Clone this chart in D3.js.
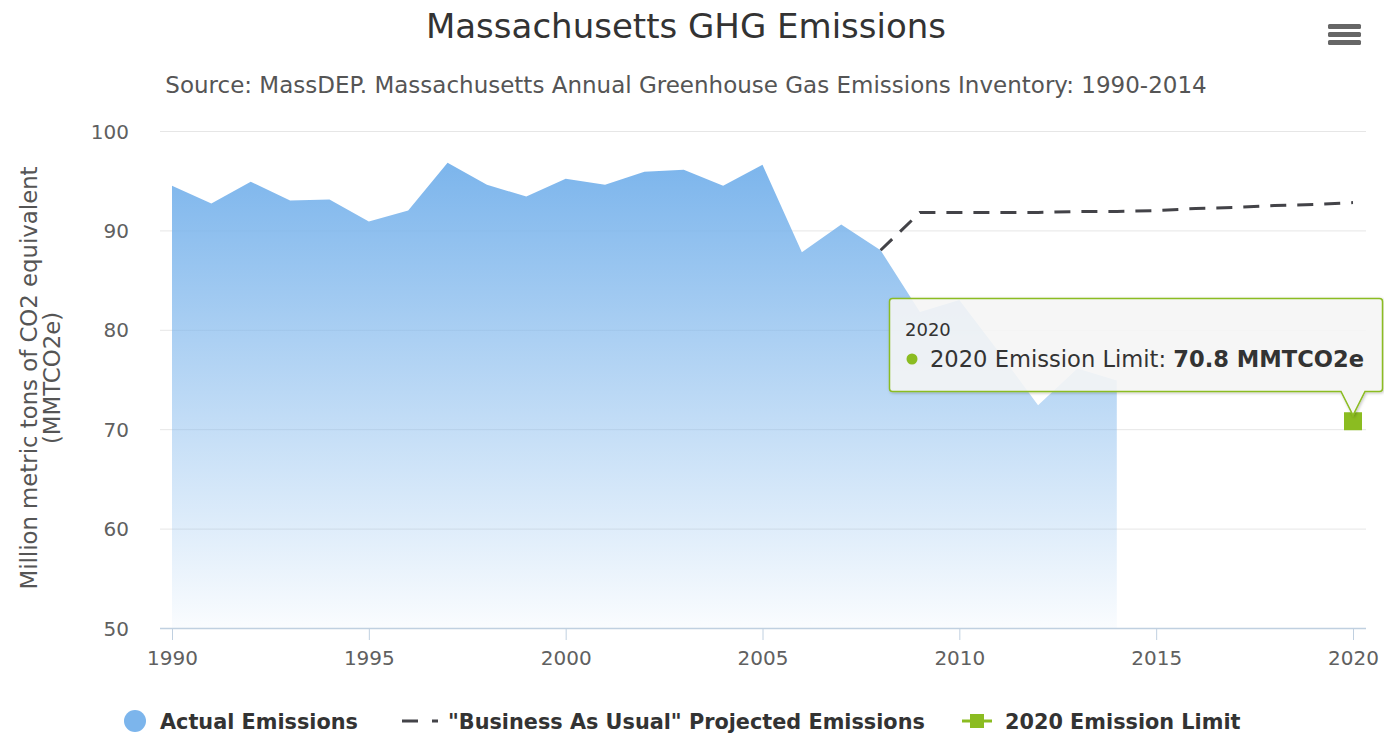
<!DOCTYPE html>
<html>
<head>
<meta charset="utf-8">
<script src="https://cdn.jsdelivr.net/npm/d3@7"></script>
<style>
  body { margin: 0; background: #fff; }
  svg { font-family: "DejaVu Sans", Verdana, sans-serif; }
</style>
</head>
<body>
<div id="chart"></div>
<script>
// data
var actualYears = [1990, 1991, 1992, 1993, 1994, 1995, 1996, 1997, 1998, 1999, 2000, 2001,
                   2002, 2003, 2004, 2005, 2006, 2007, 2008, 2009, 2010, 2011, 2012, 2013, 2014];
var actualValues = [94.5, 92.7, 94.9, 93.0, 93.1, 90.9, 92.0, 96.8, 94.6, 93.4, 95.2, 94.6,
                    95.9, 96.1, 94.5, 96.6, 87.8, 90.6, 88.0, 81.8, 83.0, 77.8, 72.4, 76.1, 74.9];
var bauYears = [2008, 2009, 2010, 2011, 2012, 2013, 2014, 2015, 2016, 2017, 2018, 2019, 2020];
var bauValues = [88.0, 91.8, 91.8, 91.8, 91.8, 91.9, 91.9, 92.0, 92.2, 92.3, 92.5, 92.6, 92.8];
var limitYears = [2020];
var limitValues = [70.8];
var xTicks = [1990, 1995, 2000, 2005, 2010, 2015, 2020];
var yTicks = [50, 60, 70, 80, 90, 100];

var W = 1384, H = 734;
var plot = {left: 160, right: 1366, top: 131, bottom: 628};

var svg = d3.select("#chart")
  .append("svg")
    .attr("width", W)
    .attr("height", H);

var defs = svg.append("defs");
var grad = defs.append("linearGradient")
    .attr("id", "areaGrad")
    .attr("x1", 0).attr("y1", 0).attr("x2", 0).attr("y2", 1);
grad.append("stop").attr("offset", "0%").attr("stop-color", "#7cb5ec").attr("stop-opacity", 1);
grad.append("stop").attr("offset", "100%").attr("stop-color", "#7cb5ec").attr("stop-opacity", 0.04);

var shadow = defs.append("filter").attr("id", "shadow")
    .attr("x", "-10%").attr("y", "-10%").attr("width", "130%").attr("height", "140%");
shadow.append("feDropShadow")
    .attr("dx", 1).attr("dy", 1).attr("stdDeviation", 1.5)
    .attr("flood-color", "#000").attr("flood-opacity", 0.25);

var x = d3.scaleLinear()
  .domain([1990, 2020])
  .range([172, 1353]);

var y = d3.scaleLinear()
  .domain([50, 100])
  .range([plot.bottom, plot.top]);

// title + subtitle
svg.append("text")
  .attr("x", 686).attr("y", 38)
  .attr("text-anchor", "middle")
  .style("font-size", "34px")
  .style("fill", "#333")
  .text("Massachusetts GHG Emissions");

svg.append("text")
  .attr("x", 686).attr("y", 93)
  .attr("text-anchor", "middle")
  .style("font-size", "23px")
  .style("fill", "#555")
  .text("Source: MassDEP. Massachusetts Annual Greenhouse Gas Emissions Inventory: 1990-2014");

// menu button
[0, 1, 2].forEach(function(i) {
  svg.append("rect")
    .attr("x", 1328).attr("y", 24 + i * 8)
    .attr("width", 33).attr("height", 5)
    .attr("rx", 1.5)
    .style("fill", "#666");
});

// grid lines
svg.append("g")
  .attr("transform", "translate(" + plot.left + ",0)")
  .call(d3.axisRight(y).tickValues(yTicks).tickSize(plot.right - plot.left).tickFormat(""))
  .call(function(g) {
    g.select(".domain").remove();
    g.selectAll("line").attr("stroke", "#e6e6e6");
  });

// y labels
svg.append("g")
  .attr("transform", "translate(" + plot.left + ",0)")
  .call(d3.axisLeft(y).tickValues(yTicks).tickSize(0).tickPadding(31))
  .call(function(g) {
    g.select(".domain").remove();
    g.selectAll("text")
      .attr("dy", "0.35em")
      .style("font-size", "20px")
      .style("fill", "#606060")
      .style("font-family", "DejaVu Sans, Verdana, sans-serif");
  });

// y axis title
svg.append("text")
  .attr("transform", "translate(37," + 378 + ") rotate(-90)")
  .attr("text-anchor", "middle")
  .style("font-size", "22.8px")
  .style("fill", "#555")
  .call(function(t) {
    t.append("tspan").attr("x", 0).attr("dy", 0).text("Million metric tons of CO2 equivalent");
    t.append("tspan").attr("x", 0).attr("dy", 23).text("(MMTCO2e)");
  });

// area series
var actual = actualYears.map(function(d, i) { return {year: d, value: actualValues[i]}; });
var area = d3.area()
  .x(function(d) { return x(d.year); })
  .y0(y(50))
  .y1(function(d) { return y(d.value); });

svg.append("path")
  .datum(actual)
  .attr("d", area)
  .style("fill", "url(#areaGrad)");

// business as usual line
var bau = bauYears.map(function(d, i) { return {year: d, value: bauValues[i]}; });
var line = d3.line()
  .x(function(d) { return x(d.year); })
  .y(function(d) { return y(d.value); });

svg.append("path")
  .datum(bau)
  .attr("d", line)
  .style("fill", "none")
  .style("stroke", "#434348")
  .style("stroke-width", 3)
  .style("stroke-dasharray", "16,11");

// x axis
svg.append("line")
  .attr("x1", plot.left).attr("x2", plot.right)
  .attr("y1", plot.bottom + 0.5).attr("y2", plot.bottom + 0.5)
  .attr("stroke", "#c0d0e0").attr("stroke-width", 1.5);

svg.append("g")
  .attr("transform", "translate(0," + plot.bottom + ")")
  .call(d3.axisBottom(x).tickValues(xTicks).tickFormat(d3.format("d")).tickSize(12).tickPadding(11))
  .call(function(g) {
    g.select(".domain").remove();
    g.selectAll("line").attr("stroke", "#c0d0e0");
    g.selectAll("text")
      .style("font-size", "20px")
      .style("fill", "#606060")
      .style("font-family", "DejaVu Sans, Verdana, sans-serif");
  });

// emission limit marker
svg.selectAll("rect.limit")
  .data(limitYears)
  .enter()
  .append("rect")
    .attr("class", "limit")
    .attr("x", function(d) { return x(d) - 9; })
    .attr("y", function(d, i) { return y(limitValues[i]) - 9; })
    .attr("width", 18)
    .attr("height", 18)
    .style("fill", "#8bbc21");

// tooltip
var tipX = x(limitYears[0]), tipY = y(limitValues[0]) - 16;
var bx0 = 889.5, bx1 = 1382.5, by0 = 298.5, by1 = 391.5, r = 3;
var tipPath = "M" + (bx0 + r) + "," + by0 +
  " L" + (bx1 - r) + "," + by0 + " Q" + bx1 + "," + by0 + " " + bx1 + "," + (by0 + r) +
  " L" + bx1 + "," + (by1 - r) + " Q" + bx1 + "," + by1 + " " + (bx1 - r) + "," + by1 +
  " L" + (tipX + 12) + "," + by1 + " L" + tipX + "," + (tipY + 10) + " L" + (tipX - 12) + "," + by1 +
  " L" + (bx0 + r) + "," + by1 + " Q" + bx0 + "," + by1 + " " + bx0 + "," + (by1 - r) +
  " L" + bx0 + "," + (by0 + r) + " Q" + bx0 + "," + by0 + " " + (bx0 + r) + "," + by0 + " Z";

var tip = svg.append("g");
tip.append("path")
  .attr("d", tipPath)
  .style("fill", "rgba(249,249,249,0.85)")
  .style("stroke", "#8bbc21")
  .style("stroke-width", 1.5)
  .attr("filter", "url(#shadow)");

tip.append("text")
  .attr("x", 905).attr("y", 336)
  .style("font-size", "18px")
  .style("fill", "#333")
  .text(limitYears[0]);

tip.append("circle")
  .attr("cx", 912).attr("cy", 359).attr("r", 5.5)
  .style("fill", "#8bbc21");

tip.append("text")
  .attr("x", 930).attr("y", 367)
  .style("font-size", "22.6px")
  .style("fill", "#333")
  .call(function(t) {
    t.append("tspan").text("2020 Emission Limit: ");
    t.append("tspan").style("font-weight", "bold").text(limitValues[0] + " MMTCO2e");
  });

// legend
var legend = svg.append("g").style("font-size", "20.8px").style("font-weight", "bold").style("fill", "#333");

legend.append("circle").attr("cx", 135).attr("cy", 721).attr("r", 11).style("fill", "#7cb5ec");
legend.append("text").attr("x", 160).attr("y", 729).text("Actual Emissions");

legend.append("line")
  .attr("x1", 402).attr("x2", 438).attr("y1", 721).attr("y2", 721)
  .style("stroke", "#434348").style("stroke-width", 3).style("stroke-dasharray", "16,14");
legend.append("text").attr("x", 448).attr("y", 729).text("\"Business As Usual\" Projected Emissions");

legend.append("line")
  .attr("x1", 962).attr("x2", 992).attr("y1", 721).attr("y2", 721)
  .style("stroke", "#8bbc21").style("stroke-width", 3);
legend.append("rect").attr("x", 970).attr("y", 714).attr("width", 14).attr("height", 14).style("fill", "#8bbc21");
legend.append("text").attr("x", 1005).attr("y", 729).text("2020 Emission Limit");
</script>
</body>
</html>
